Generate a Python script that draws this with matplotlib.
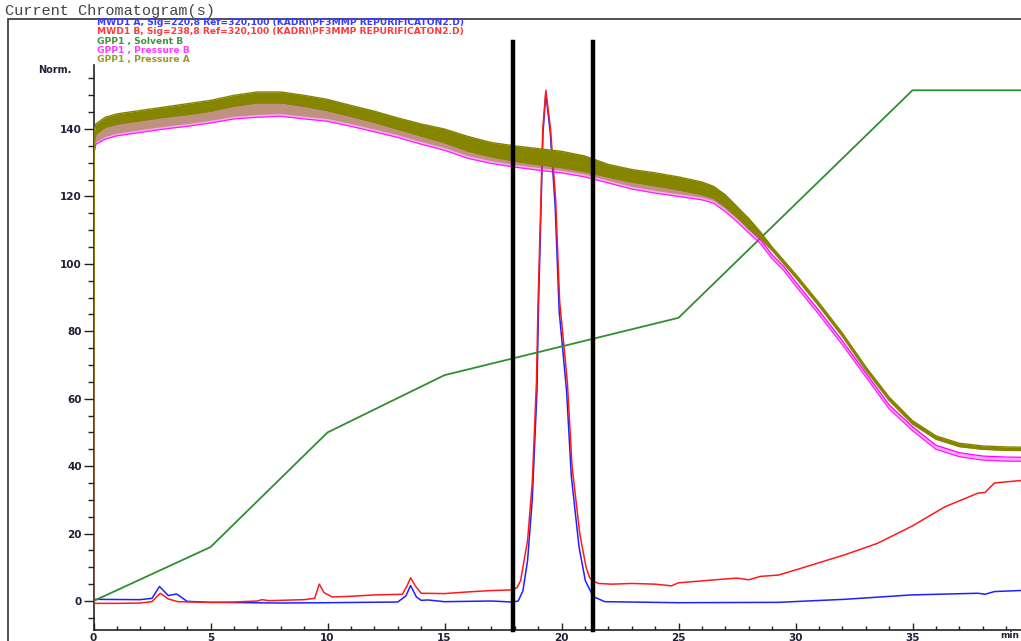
import matplotlib
matplotlib.use("Agg")
import matplotlib.pyplot as plt
from matplotlib.patches import Rectangle
from matplotlib.ticker import MultipleLocator

# ---------------- data ----------------
# MWD1 A (blue)
blue_t = [0, 2.0, 2.5, 2.82, 3.2, 3.55, 4.0, 5, 8, 10, 13, 13.35, 13.55, 13.8, 14.0, 14.3, 15, 17,
          17.9, 18.15, 18.35, 18.55, 18.75, 18.95, 19.02, 19.13, 19.21, 19.33, 19.52, 19.73, 19.9,
          20.22, 20.42, 20.75, 21.02, 21.36, 21.85, 25, 29.27, 30.5, 32.1, 34.95, 37.8, 38.1, 38.5,
          39.55, 40]
blue_v = [0.5, 0.4, 0.8, 4.3, 1.6, 2.1, -0.1, -0.4, -0.6, -0.5, -0.3, 1.5, 4.6, 1.2, 0.2, 0.3, -0.2, 0.0,
          -0.3, 0.0, 3, 12, 30, 62, 88, 118, 139, 150.5, 139, 117, 86,
          62, 37, 16, 6, 1.3, -0.2, -0.5, -0.4, 0.0, 0.5, 1.8, 2.3, 2.0, 2.8,
          3.1, 3.1]

# MWD1 B (red)
red_t = [0, 1, 2, 2.5, 2.85, 3.2, 3.6, 5, 6, 7, 7.2, 7.5, 9, 9.45, 9.65, 9.85, 10.2, 11, 12, 13.2,
         13.4, 13.55, 13.75, 14, 15, 16, 17, 17.9, 18.1, 18.25, 18.35, 18.55, 18.75, 18.93, 19.0,
         19.12, 19.2, 19.33, 19.53, 19.75, 19.92, 20.25, 20.45, 20.78, 21.05, 21.2, 21.36, 21.6,
         22.15, 23, 24, 24.7, 25, 26.4, 27.5, 28.0, 28.5, 29.27, 30, 30.7, 32.1, 33.5, 34.95,
         36.4, 37.8, 38.1, 38.5, 39.55, 40]
red_v = [-0.7, -0.7, -0.6, -0.2, 2.3, 0.6, -0.2, -0.4, -0.3, 0.0, 0.4, 0.1, 0.4, 0.8, 5.0, 2.5, 1.2, 1.4, 1.8, 2.0,
         4.5, 6.9, 4.5, 2.3, 2.2, 2.7, 3.1, 3.3, 4.0, 6, 10, 18, 35, 65, 89,
         119, 140, 151.5, 140, 119, 89, 65, 40, 20, 10, 7, 5.8, 5.2,
         5.0, 5.2, 5.0, 4.5, 5.4, 6.2, 6.8, 6.3, 7.3, 7.7, 9.2, 10.7, 13.7, 17.1, 22.1,
         28.0, 32.0, 32.2, 35.0, 35.7, 35.8]

# GPP1 Solvent B (green)
solv_t = [0, 5, 10, 15, 25, 35, 40]
solv_v = [0, 16, 50, 67, 84, 151.5, 151.5]

# GPP1 Pressure A / Pressure B ripple envelopes
press_t = [0, 0.03, 0.1, 0.5, 1, 2, 3, 4, 5, 6, 7, 8, 9, 10, 11, 12, 13, 14, 15, 16, 17, 18, 19, 20,
           21, 22, 23, 24, 25, 26, 26.5, 27, 27.5, 28, 28.5, 29, 29.5, 30, 31, 32, 33, 34, 35, 36,
           37, 38, 39, 40]
pressA_hi = [0, 139, 141.5, 143.5, 144.5, 145.5, 146.5, 147.5, 148.5, 150, 151, 151, 150, 148.8, 147,
             145.3, 143.3, 141.5, 140, 137.8, 136, 135, 134.2, 133.4, 132, 129.5, 128, 127, 125.8,
             124.3, 123, 120.5, 117, 113.5, 109.5, 105, 101, 97, 88.5, 79.5, 69.5, 60.5, 53.5, 49,
             46.8, 46, 45.7, 45.6]
pressA_lo = [0, 136, 138.5, 140.5, 141.5, 142.5, 143.5, 144.3, 145.3, 146.8, 147.8, 147.8, 146.8, 145.5,
             143.8, 142, 140, 138, 136, 133.5, 131.8, 130.5, 129.5, 128.6, 127.4, 125.8, 124.3,
             123.2, 122, 120.6, 119.5, 117, 114, 110.5, 107.5, 104, 100, 96, 87.5, 78.5, 68.5,
             59.5, 52.5, 48, 45.8, 45, 44.7, 44.6]
pressA_tip = [0, 133.8, 136.3, 137.8, 138.8, 139.8, 140.8, 141.6, 142.6, 143.8, 144.3, 144.6, 143.8,
              143.1, 141.6, 140, 138.3, 136.3, 134.5, 132.1, 130.6, 129.5, 128.6, 127.8, 126.6,
              124.8, 123, 121.8, 120.8, 119.8, 118.8, 116.3, 113.3, 110.5, 107.5, 104, 100, 96,
              87.5, 78.5, 68.5, 59.5, 52.5, 48, 45.8, 45, 44.7, 44.6]
pressB_hi = [0, 136, 138.5, 140.5, 141.5, 142.5, 143.5, 144.3, 145.3, 146.8, 147.8, 147.8, 146.8, 145.5,
             143.8, 142, 140, 138, 136, 133.5, 131.8, 130.5, 129.5, 128.6, 127.4, 125.8, 124.3,
             123.2, 122, 120.6, 119.5, 117, 114, 110.4, 107.2, 102.7, 99.2, 94.7, 86.2, 77.2,
             67.7, 58.2, 51.7, 46.2, 44, 43, 42.7, 42.6]
pressB_lo = [0, 133, 135.5, 137, 138, 139, 140, 140.8, 141.8, 143, 143.5, 143.8, 143, 142.3, 140.8,
             139.2, 137.5, 135.5, 133.7, 131.3, 129.8, 128.7, 127.8, 127, 125.8, 124, 122.2, 121,
             120, 119, 118, 115.5, 112.5, 109.2, 106, 101.5, 98, 93.5, 85, 76, 66.5, 57, 50.5,
             45, 42.8, 41.8, 41.5, 41.4]

# fraction-cut markers (min)
cut_lines = [17.91, 21.36]

x_major = [0, 5, 10, 15, 20, 25, 30, 35]
y_major = [0, 20, 40, 60, 80, 100, 120, 140]

legend_lines = [
    ("MWD1 A, Sig=220,8 Ref=320,100 (KADRI\\PF3MMP REPURIFICATON2.D)", "#3a3aff"),
    ("MWD1 B, Sig=238,8 Ref=320,100 (KADRI\\PF3MMP REPURIFICATON2.D)", "#ff3a3a"),
    ("GPP1 , Solvent B", "#3c963c"),
    ("GPP1 , Pressure B", "#ff3cff"),
    ("GPP1 , Pressure A", "#9a9a2a"),
]

# ---------------- figure ----------------
W, H = 1021, 641
fig = plt.figure(figsize=(W / 100, H / 100), dpi=100)
fig.patch.set_facecolor("white")

ax = fig.add_axes([93.5 / W, 11 / H, 936 / W, 565 / H])
ax.set_xlim(0, 40)
ax.set_ylim(-8.6, 159)
ax.set_facecolor("none")

for s in ("top", "right"):
    ax.spines[s].set_visible(False)
for s in ("left", "bottom"):
    ax.spines[s].set_color("#222222")
    ax.spines[s].set_linewidth(1.2)

ax.set_xticks(x_major)
ax.set_xticklabels([str(v) for v in x_major])
ax.xaxis.set_minor_locator(MultipleLocator(1))
ax.set_yticks(y_major)
ax.set_yticklabels([str(v) for v in y_major])
ax.yaxis.set_minor_locator(MultipleLocator(5))

for lab in ax.get_xticklabels() + ax.get_yticklabels():
    lab.set_fontfamily("DejaVu Sans")
    lab.set_fontweight("bold")
    lab.set_fontsize(7.5)
    lab.set_color("#20203a")
ax.tick_params(axis="y", which="major", direction="out", length=7, width=1, color="#222222", pad=1.5)
ax.tick_params(axis="y", which="minor", direction="out", length=4, width=1, color="#222222")
ax.tick_params(axis="x", which="major", direction="in", length=5, width=1, color="#222222", pad=2)
ax.tick_params(axis="x", which="minor", direction="in", length=3, width=1, color="#222222")

# signals
ax.plot(blue_t, blue_v, color="#2020ff", lw=1.1, zorder=2)
ax.plot(red_t, red_v, color="#ff1a1a", lw=1.1, zorder=3)
ax.plot(solv_t, solv_v, color="#2f8f2f", lw=1.3, zorder=4)

ax.fill_between(press_t, pressB_lo, pressB_hi, color="#ff00ff", alpha=0.35, lw=0, zorder=5)
ax.plot(press_t, pressB_lo, color="#ff00ff", lw=0.9, alpha=0.85, zorder=5)
ax.plot(press_t, pressB_hi, color="#ff00ff", lw=0.9, zorder=5)
ax.fill_between(press_t, pressA_tip, pressA_lo, color="#808000", alpha=0.5, lw=0, zorder=6)
ax.fill_between(press_t, pressA_lo, pressA_hi, color="#858500", lw=0, zorder=6)
ax.plot(press_t, pressA_hi, color="#858500", lw=1.0, zorder=6)
ax.plot(press_t, pressA_lo, color="#858500", lw=1.0, zorder=6)

# black fraction markers
top_frac = (165.8 + 8.6) / (159 + 8.6)
for xc in cut_lines:
    ax.axvline(xc, ymin=0, ymax=top_frac, color="black", lw=3.2, clip_on=False, zorder=10)

# axis annotations
fig.text(38 / W, 1 - 70 / H, "Norm.", ha="left", va="center",
         fontsize=7, fontweight="bold", family="DejaVu Sans", color="#20203a")
fig.text(1019 / W, 1.5 / H, "min", ha="right", va="bottom",
         fontsize=6.5, fontweight="bold", family="DejaVu Sans", color="#20203a")

# header and signal legend
fig.text(5 / W, 1 - 11.5 / H, "Current Chromatogram(s)", ha="left", va="center",
         family="Liberation Mono", fontsize=11, color="#444444")
for i, (txt, col) in enumerate(legend_lines):
    fig.text(97 / W, 1 - (22.5 + 9.3 * i) / H, txt, ha="left", va="center",
             family="DejaVu Sans", fontsize=6.6, fontweight="bold", color=col)

# outer frame
fig.add_artist(Rectangle((8 / W, -0.1), 1.2, 1 - 19 / H + 0.1, transform=fig.transFigure,
                         fill=False, edgecolor="#333333", lw=1.2, clip_on=False))

fig.savefig("out.png", dpi=100)
